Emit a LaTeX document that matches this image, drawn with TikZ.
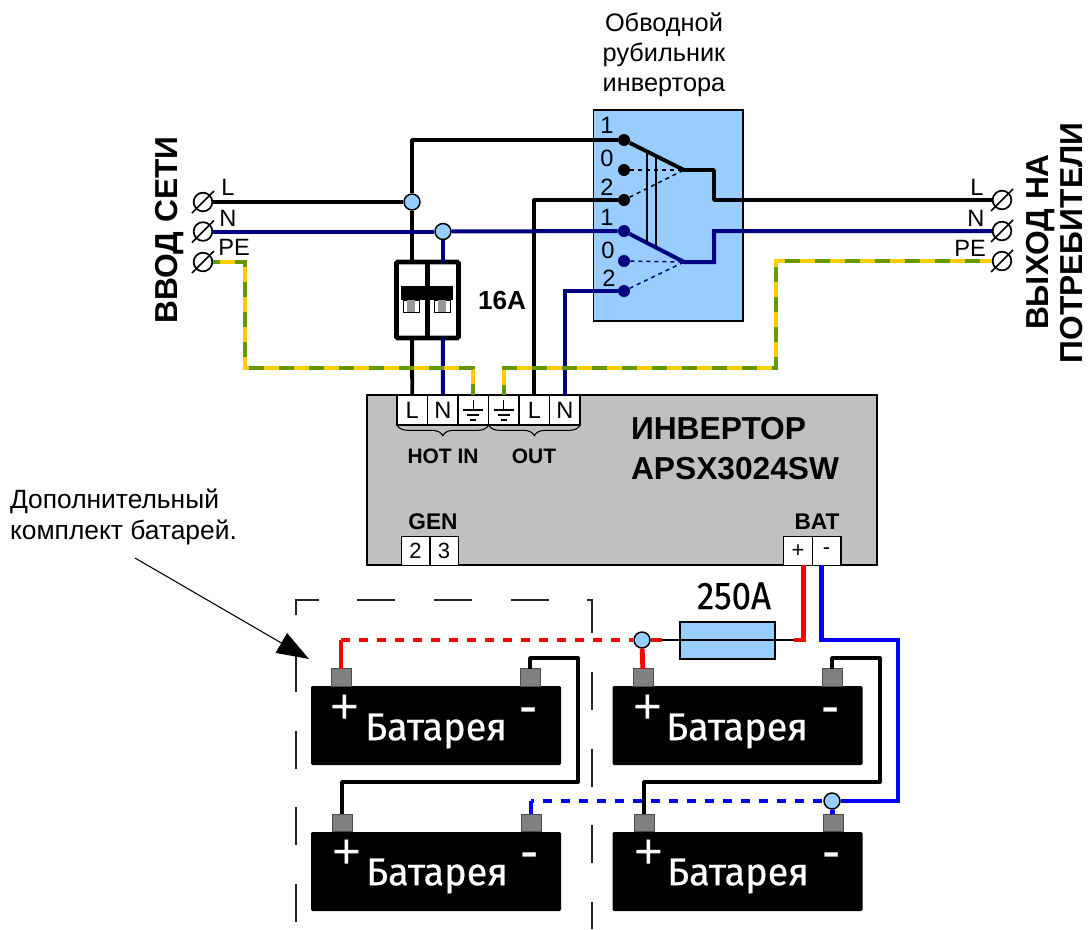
\documentclass[tikz,border=0pt]{standalone}
\usepackage{fontspec}
\setmainfont{Liberation Sans}
\newfontfamily\batfont[FakeStretch=0.98,FakeBold=0.4]{Fira Sans}
\newfontfamily\fusefont[FakeStretch=0.9,FakeBold=0.4]{Fira Sans}
\usetikzlibrary{arrows.meta,positioning,decorations.pathreplacing}
\definecolor{panelblue}{HTML}{99CCFF}
\definecolor{invgray}{HTML}{C0C0C0}
\definecolor{postgray}{HTML}{808080}
\definecolor{navywire}{HTML}{000080}
\definecolor{peyellow}{HTML}{FFCC00}
\definecolor{pegreen}{HTML}{669900}
\newcommand{\fsize}[1]{\fontsize{#1}{#1}\selectfont}

\begin{document}
\begin{tikzpicture}[x=0.75pt,y=-0.75pt]
            \tikzstyle{txt} = [inner sep=0pt, outer sep=0pt, align=center]
            \tikzstyle{title} = [txt, font=\bfseries\fsize{23.8}]
            \tikzstyle{bold} = [txt, font=\bfseries\fsize{15.7}]
            \tikzstyle{note} = [txt, font=\fontsize{19.8}{23.2}\selectfont]
            \tikzstyle{pin} = [txt, font=\fsize{17.7}]
            \tikzstyle{block} = [draw, rectangle, fill=white, line width=1.1pt, minimum width=22.9pt, minimum height=22.5pt, inner sep=0pt, outer sep=0pt, font=\fsize{17.7}]
            \tikzstyle{small} = [block, minimum width=21.4pt, minimum height=21.4pt, font=\fsize{16.5}]
            \tikzstyle{clamp} = [circle, draw, line width=1.3pt, minimum size=14pt, inner sep=0pt]
            \tikzstyle{contact} = [circle, fill, minimum size=9pt, inner sep=0pt]
            \tikzstyle{junction} = [circle, draw, fill=panelblue, line width=1.1pt, minimum size=12pt, inner sep=0pt]
            \tikzstyle{battery} = [rectangle, fill=black, rounded corners=1pt, minimum width=187.5pt, minimum height=59.25pt, inner sep=0pt]
            \tikzstyle{post} = [draw=black!70, fill=postgray, line width=0.6pt, minimum width=15pt, minimum height=13pt, inner sep=0pt, outer sep=0pt]
            \tikzstyle{batname} = [txt, text=white, font=\batfont\fsize{29}]
            \tikzstyle{batsign} = [txt, text=white, font=\fsize{37}]
            \tikzstyle{batminus} = [txt, text=white, font=\fsize{41}]
            \tikzstyle{blackwire} = [draw=black, line width=2.9pt, line join=round]
            \tikzstyle{navy} = [draw=navywire, line width=3pt]
            \tikzstyle{redwire} = [draw=red, line width=3.6pt]
            \tikzstyle{bluewire} = [draw=blue, line width=3.6pt]
            \tikzstyle{pewire} = [draw=peyellow, line width=3pt, postaction={draw=pegreen, dash pattern=on 11.25pt off 11.25pt, dash phase=#1}]
            \tikzset{earth/.pic={
                \draw[line width=0.8pt] (0,-10) -- (0,0) (-10,0) -- (10,0) (-6,5) -- (6,5) (-3,10) -- (3,10);
            }}
            \useasboundingbox (0,0) rectangle (1089,929);

            % switch panel
            \node [draw, rectangle, fill=panelblue, line width=1.1pt, minimum width=112pt, minimum height=158.25pt, inner sep=0pt] (panel) at (668.25,215.5) {};
            \node [note, font=\fontsize{19}{22.5}\selectfont] (panelName) at (664,55) {Обводной\\рубильник\\инвертора};
            \node [contact] (lineOne) at (624,140) {};
            \node [contact] (lineZero) at (624,170) {};
            \node [contact] (lineTwo) at (624,200) {};
            \node [contact, navywire] (zeroOne) at (624,231) {};
            \node [contact, navywire] (zeroZero) at (624,261) {};
            \node [contact, navywire] (zeroTwo) at (624,291) {};
            \node [pin] (numA) at (607,125) {1};
            \node [pin] (numB) at (607,158) {0};
            \node [pin] (numC) at (607,187) {2};
            \node [pin] (numD) at (607,217) {1};
            \node [pin] (numE) at (608,250) {0};
            \node [pin] (numF) at (609,278) {2};
            \coordinate (lineKnee) at (684,170);
            \coordinate (lineBend) at (714,200);
            \coordinate (zeroKnee) at (684,262);
            \coordinate (zeroBend) at (714,231);
            \coordinate (gangAtop) at (647,153);
            \coordinate (gangAbot) at (647,243);
            \coordinate (gangBtop) at (656,158);
            \coordinate (gangBbot) at (656,247);

            % mains clamps
            \node [clamp, append after command={(\tikzlastnode.center) ++(-11,11) edge[line width=1.3pt, draw=black] ++(22,-22)}] (inL) at (203,202) {};
            \node [clamp, append after command={(\tikzlastnode.center) ++(-11,11) edge[line width=1.3pt, draw=black] ++(22,-22)}] (inN) at (203,231.5) {};
            \node [clamp, append after command={(\tikzlastnode.center) ++(-11,11) edge[line width=1.3pt, draw=black] ++(22,-22)}] (inPE) at (203,262) {};
            \node [clamp, append after command={(\tikzlastnode.center) ++(-11,11) edge[line width=1.3pt, draw=black] ++(22,-22)}] (outL) at (1002,200) {};
            \node [clamp, append after command={(\tikzlastnode.center) ++(-11,11) edge[line width=1.3pt, draw=black] ++(22,-22)}] (outN) at (1002,231) {};
            \node [clamp, append after command={(\tikzlastnode.center) ++(-11,11) edge[line width=1.3pt, draw=black] ++(22,-22)}] (outPE) at (1002,261) {};
            \node [pin] (inLname) at (228,187) {L};
            \node [pin] (inNname) at (228,218) {N};
            \node [pin] (inPEname) at (234,247) {PE};
            \node [pin] (outLname) at (977,187) {L};
            \node [pin] (outNname) at (976,218) {N};
            \node [pin] (outPEname) at (970,248) {PE};
            \node [title, rotate=90] (inName) at (170,230) {ВВОД СЕТИ};
            \node [title, rotate=90] (outNameA) at (1041,242) {ВЫХОД НА};
            \node [title, rotate=90] (outNameB) at (1072,243) {ПОТРЕБИТЕЛИ};
            \node [junction] (junL) at (412,202) {};
            \node [junction] (junN) at (443,231.5) {};

            % breaker
            \node [draw, rectangle, line width=3.6pt, rounded corners=1pt, minimum width=23.25pt, minimum height=57pt, inner sep=0pt, outer sep=0pt] (brkL) at (412,300) {};
            \node [draw, rectangle, line width=3.6pt, rounded corners=1pt, minimum width=23.25pt, minimum height=57pt, inner sep=0pt, outer sep=0pt] (brkN) at (443,300) {};
            \node [draw, rectangle, fill=white, line width=0.6pt, minimum width=12pt, minimum height=9pt, inner sep=0pt] (latchL) at (411,306) {};
            \node [draw, rectangle, fill=white, line width=0.6pt, minimum width=12pt, minimum height=9pt, inner sep=0pt] (latchN) at (442,306) {};
            \node [rectangle, fill=postgray!80, minimum width=5.5pt, minimum height=8.5pt, inner sep=0pt] (latchLin) at (411,306) {};
            \node [rectangle, fill=postgray!80, minimum width=5.5pt, minimum height=8.5pt, inner sep=0pt] (latchNin) at (442,306) {};
            \node [rectangle, fill=black, minimum width=38.5pt, minimum height=11pt, inner sep=0pt] (brkBar) at (427,293) {};
            \node [txt, font=\bfseries\fsize{19.6}] (brkName) at (502,300) {16A};

            % inverter
            \node [draw, rectangle, fill=invgray, line width=1.3pt, minimum width=382.5pt, minimum height=127.5pt, inner sep=0pt] (inverter) at (622,480) {};
            \node [block] (hotL) at (412.25,410) {L};
            \node [block, right = 0pt of hotL] (hotN) {N};
            \node [block, right = 0pt of hotN] (hotE) {};
            \node [block, right = 0pt of hotE] (loadE) {};
            \node [block, right = 0pt of loadE] (loadL) {L};
            \node [block, right = 0pt of loadL] (loadN) {N};
            \pic at (hotE) {earth};
            \pic at (loadE) {earth};
            \draw [decorate, decoration={brace, mirror, amplitude=8pt}, line width=0.8pt] (hotL.south west) -- (hotE.south east);
            \draw [decorate, decoration={brace, mirror, amplitude=8pt}, line width=0.8pt] (loadE.south west) -- (loadN.south east);
            \node [bold] (hotName) at (443,456) {HOT IN};
            \node [bold] (loadName) at (534,456) {OUT};
            \node [title, align=left, anchor=north west, font=\bfseries\fontsize{23.8}{30}\selectfont] (invName) at (631,417) {ИНВЕРТОР\\APSX3024SW};
            \node [bold, font=\bfseries\fsize{17}] (genName) at (433,522) {GEN};
            \node [bold, font=\bfseries\fsize{17}] (batName) at (817,522) {BAT};
            \node [small] (genTwo) at (415.5,551) {2};
            \node [small, right = 0pt of genTwo] (genThree) {3};
            \node [small] (batPlus) at (798,551) {+};
            \node [small, right = 0pt of batPlus] (batMinus) {-};
            \coordinate (redOut) at ([xshift=4.2pt]batPlus.south);
            \coordinate (blueOut) at ([xshift=-3.7pt]batMinus.south);

            % batteries
            \coordinate (frameFoot) at (296,922);
            \coordinate (frameLeft) at (296,600);
            \coordinate (frameRight) at (592,600);
            \coordinate (frameEnd) at (592,929);
            \draw [line width=1pt, draw=black!85, dash pattern=on 28.5pt off 29pt] (frameFoot) -- (frameLeft) -- (frameRight) -- (frameEnd);
            \node [battery] (batA) at (436,725.5) {};
            \node [battery] (batB) at (436,871.5) {};
            \node [battery] (batC) at (737.5,725.5) {};
            \node [battery] (batD) at (737.5,871.5) {};
            \node [post] (batAplus) at (341,677.5) {};
            \node [post] (batAminus) at (530,677.5) {};
            \node [post] (batBplus) at (342,823) {};
            \node [post] (batBminus) at (531,823) {};
            \node [post] (batCplus) at (643,677.5) {};
            \node [post] (batCminus) at (832,677.5) {};
            \node [post] (batDplus) at (644,823) {};
            \node [post] (batDminus) at (833,823) {};
            \node [batname] (batAname) at (436,731) {Батарея};
            \node [batname] (batBname) at (437,876) {Батарея};
            \node [batname] (batCname) at (737,731) {Батарея};
            \node [batname] (batDname) at (738,876) {Батарея};
            \node [batsign] (batAp) at (345,709) {+};
            \node [batsign] (batBp) at (347,854) {+};
            \node [batsign] (batCp) at (648,709) {+};
            \node [batsign] (batDp) at (649,854) {+};
            \node [batminus] (batAm) at (529,716) {-};
            \node [batminus] (batBm) at (530,861) {-};
            \node [batminus] (batCm) at (831,716) {-};
            \node [batminus] (batDm) at (832,861) {-};

            % fuse and bus
            \node [draw, rectangle, fill=panelblue, line width=1pt, minimum width=71.25pt, minimum height=27.75pt, inner sep=0pt] (fuse) at (727.5,640.5) {};
            \node [txt, font=\fusefont\fsize{29}] (fuseName) at (734,596) {250A};
            \node [junction] (junRed) at (642,640) {};
            \node [junction] (junBlue) at (832,801) {};
            \coordinate (fuseLeft) at (662,640);
            \coordinate (fuseRight) at (794,640);
            \coordinate (redCorner) at (batAplus |- junRed);
            \coordinate (blueCorner) at (531,801);
            \coordinate (blueRight) at (898,640);
            \coordinate (blueDown) at (898,801);
            \coordinate (serAtop) at (578,658);
            \coordinate (serAbot) at (578,782);
            \coordinate (serCtop) at (880,658);
            \coordinate (serCbot) at (880,782);
            \coordinate (peLeft) at (245,368);
            \coordinate (peRight) at (776,368);

            % note
            \node [note, align=left, anchor=north west] (noteName) at (10,489) {Дополнительный\\комплект батарей.};
            \coordinate (noteStart) at (135,558);
            \coordinate (noteEnd) at (309,659);
            \draw [-{Triangle[length=24pt,width=17pt]}, line width=0.8pt] (noteStart) -- (noteEnd);

            % wires
            \draw [blackwire] (lineOne) -| (junL);
            \draw [blackwire] (inL) -- (junL);
            \draw [blackwire] (junL) -- (brkL);
            \draw [blackwire] (brkL) -- (hotL);
            \draw [blackwire] (lineTwo) -| (loadL);
            \draw [blackwire] (lineOne) -- (lineKnee) -| (lineBend) -- (outL);
            \draw [line width=1.1pt, dash pattern=on 3pt off 3pt] (lineZero) -- (lineKnee);
            \draw [line width=1.1pt, dash pattern=on 3pt off 3pt] (lineTwo) -- (lineKnee);
            \draw [navy] (inN) -- (junN);
            \draw [navy] (junN) -- (zeroOne);
            \draw [navy] (junN) -- (brkN);
            \draw [navy] (brkN) -- (hotN);
            \draw [navy] (zeroTwo) -| (loadN);
            \draw [navy] (zeroOne) -- (zeroKnee) -| (zeroBend) -- (outN);
            \draw [navywire, line width=1.1pt, dash pattern=on 3pt off 3pt] (zeroZero) -- (zeroKnee);
            \draw [navywire, line width=1.1pt, dash pattern=on 3pt off 3pt] (zeroTwo) -- (zeroKnee);
            \draw [line width=1pt] (gangAtop) -- (gangAbot);
            \draw [line width=1pt] (gangBtop) -- (gangBbot);
            \draw [pewire=6pt] (inPE) -| (peLeft) -| (hotE);
            \draw [pewire=3.75pt] (loadE) |- (peRight) |- (outPE);

            \draw [redwire] (redOut) |- (fuseRight);
            \draw [line width=0.9pt] (fuseRight) -- (fuseLeft);
            \draw [redwire] (junRed) -- (fuseLeft);
            \draw [redwire] (junRed) -- (batCplus);
            \draw [redwire, dash pattern=on 6.75pt off 6.75pt] (redCorner) -- (junRed);
            \draw [redwire] (redCorner) -- (batAplus);
            \draw [bluewire] (blueOut) |- (blueRight) -- (blueDown) -- (junBlue);
            \draw [bluewire] (junBlue) -- (batDminus);
            \draw [bluewire, dash pattern=on 6.75pt off 6.75pt, dash phase=4.5pt] (blueCorner) -- (junBlue);
            \draw [bluewire] (blueCorner) -- (batBminus);
            \draw [blackwire] (batAminus) |- (serAtop) -- (serAbot) -| (batBplus);
            \draw [blackwire] (batCminus) |- (serCtop) -- (serCbot) -| (batDplus);
\end{tikzpicture}
\end{document}
